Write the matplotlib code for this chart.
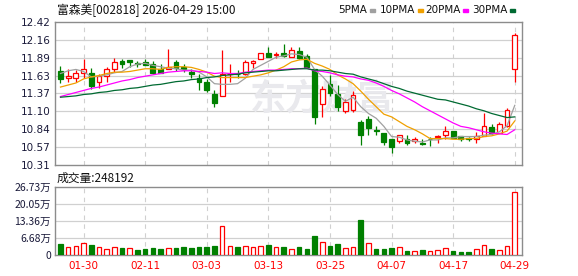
"""
Daily K-line chart for 富森美 (002818) with moving averages and volume.
"""
import matplotlib
matplotlib.use('Agg')
import matplotlib.pyplot as plt
import numpy as np

plt.rcParams['font.family'] = ['Noto Sans CJK SC', 'DejaVu Sans']

###############################################################################
# Data
###############################################################################

dates = ['01-27', '01-28', '01-29', '01-30', '02-02', '02-03', '02-04', '02-05',
         '02-06', '02-09', '02-10', '02-11', '02-12', '02-13', '02-24', '02-25',
         '02-26', '02-27', '03-02', '03-03', '03-04', '03-05', '03-06', '03-09',
         '03-10', '03-11', '03-12', '03-13', '03-16', '03-17', '03-18', '03-19',
         '03-20', '03-23', '03-24', '03-25', '03-26', '03-27', '03-30', '03-31',
         '04-01', '04-02', '04-03', '04-07', '04-08', '04-09', '04-10', '04-13',
         '04-14', '04-15', '04-16', '04-17', '04-20', '04-21', '04-22', '04-23',
         '04-24', '04-27', '04-28', '04-29']

opens = [11.70, 11.59, 11.60, 11.67, 11.67, 11.53, 11.62, 11.73, 11.84, 11.86,
         11.82, 11.83, 11.80, 11.73, 11.72, 11.83, 11.75, 11.68, 11.60, 11.54,
         11.36, 11.33, 11.65, 11.66, 11.66, 11.81, 11.87, 11.96, 11.94, 11.96,
         11.90, 11.99, 11.92, 11.72, 11.21, 11.51, 11.36, 11.11, 11.12, 10.94,
         10.99, 10.82, 10.78, 10.69, 10.67, 10.69, 10.67, 10.63, 10.70, 10.73,
         10.76, 10.81, 10.74, 10.71, 10.69, 10.74, 10.87, 10.78, 10.89, 11.72]
highs = [11.77, 11.72, 11.71, 11.87, 11.74, 11.66, 11.75, 11.89, 11.87, 11.86,
         11.85, 11.87, 11.85, 11.80, 12.02, 11.86, 11.80, 11.72, 11.65, 11.58,
         11.41, 12.01, 11.80, 11.71, 11.86, 11.86, 11.96, 12.05, 11.98, 12.09,
         12.05, 12.05, 11.95, 11.72, 11.47, 11.64, 11.49, 11.29, 11.40, 10.97,
         11.04, 10.88, 10.78, 10.70, 10.75, 10.75, 10.72, 10.69, 10.73, 10.75,
         10.89, 10.81, 10.74, 10.73, 10.80, 11.07, 10.91, 10.94, 11.15, 12.26]
lows = [11.52, 11.54, 11.54, 11.60, 11.43, 11.45, 11.54, 11.68, 11.74, 11.75,
        11.76, 11.78, 11.65, 11.67, 11.72, 11.69, 11.68, 11.60, 11.41, 11.38,
        11.16, 11.33, 11.54, 11.60, 11.64, 11.74, 11.87, 11.90, 11.89, 11.91,
        11.90, 11.87, 11.75, 10.92, 11.02, 11.33, 11.11, 11.07, 11.09, 10.60,
        10.76, 10.75, 10.60, 10.49, 10.63, 10.61, 10.64, 10.61, 10.59, 10.63,
        10.70, 10.71, 10.67, 10.67, 10.64, 10.74, 10.76, 10.78, 10.87, 11.54]
closes = [11.58, 11.62, 11.67, 11.72, 11.47, 11.62, 11.72, 11.83, 11.80, 11.83,
          11.80, 11.79, 11.67, 11.67, 11.75, 11.74, 11.73, 11.65, 11.54, 11.41,
          11.22, 11.65, 11.66, 11.65, 11.83, 11.85, 11.96, 11.91, 11.95, 11.92,
          12.00, 11.89, 11.76, 11.02, 11.43, 11.37, 11.17, 11.24, 11.34, 10.75,
          10.85, 10.81, 10.65, 10.57, 10.75, 10.63, 10.70, 10.62, 10.69, 10.74,
          10.81, 10.71, 10.70, 10.69, 10.74, 10.89, 10.78, 10.91, 11.12, 12.23]

ma5 = [11.66, 11.70, 11.72, 11.69, 11.61, 11.62, 11.64, 11.67, 11.69, 11.76,
       11.80, 11.81, 11.78, 11.76, 11.74, 11.73, 11.71, 11.71, 11.68, 11.61,
       11.51, 11.50, 11.50, 11.51, 11.59, 11.72, 11.78, 11.84, 11.90, 11.92,
       11.95, 11.94, 11.90, 11.72, 11.62, 11.49, 11.35, 11.25, 11.31, 11.17,
       11.07, 11.00, 10.88, 10.73, 10.72, 10.68, 10.66, 10.65, 10.68, 10.68,
       10.71, 10.71, 10.73, 10.73, 10.73, 10.75, 10.76, 10.80, 10.89, 11.19]
ma10 = [11.46, 11.49, 11.52, 11.58, 11.61, 11.63, 11.66, 11.68, 11.68, 11.69,
        11.71, 11.73, 11.73, 11.72, 11.75, 11.76, 11.76, 11.75, 11.72, 11.68,
        11.62, 11.60, 11.60, 11.60, 11.60, 11.62, 11.64, 11.67, 11.71, 11.76,
        11.83, 11.86, 11.87, 11.81, 11.77, 11.72, 11.64, 11.58, 11.51, 11.40,
        11.28, 11.17, 11.06, 11.02, 10.95, 10.88, 10.83, 10.77, 10.70, 10.70,
        10.70, 10.69, 10.69, 10.70, 10.70, 10.73, 10.74, 10.77, 10.81, 10.96]
ma20 = [11.32, 11.35, 11.38, 11.41, 11.44, 11.46, 11.49, 11.52, 11.55, 11.57,
        11.60, 11.62, 11.64, 11.66, 11.68, 11.69, 11.70, 11.70, 11.69, 11.68,
        11.66, 11.67, 11.66, 11.66, 11.68, 11.69, 11.70, 11.71, 11.71, 11.72,
        11.73, 11.73, 11.74, 11.70, 11.69, 11.67, 11.64, 11.62, 11.61, 11.58,
        11.56, 11.52, 11.47, 11.41, 11.36, 11.30, 11.24, 11.17, 11.11, 11.05,
        10.99, 10.93, 10.88, 10.86, 10.83, 10.80, 10.78, 10.77, 10.76, 10.83]
ma30 = [11.31, 11.32, 11.33, 11.35, 11.36, 11.38, 11.39, 11.41, 11.42, 11.44,
        11.45, 11.47, 11.49, 11.50, 11.52, 11.54, 11.55, 11.57, 11.58, 11.60,
        11.61, 11.63, 11.64, 11.65, 11.67, 11.68, 11.69, 11.70, 11.70, 11.71,
        11.72, 11.73, 11.73, 11.71, 11.71, 11.70, 11.68, 11.66, 11.65, 11.61,
        11.58, 11.55, 11.51, 11.47, 11.44, 11.40, 11.37, 11.34, 11.31, 11.28,
        11.27, 11.24, 11.21, 11.18, 11.14, 11.11, 11.07, 11.04, 11.01, 11.02]

volumes = [43200, 31400, 35400, 45900, 39300, 30100, 23600, 31400, 27500, 27500,
           19700, 23600, 27500, 24900, 26200, 27500, 31400, 27500, 31400, 31400,
           35400, 112700, 34100, 31400, 35400, 31400, 35400, 39300, 31400, 31400,
           23000, 31400, 23600, 74700, 49800, 35400, 43200, 27500, 31400, 137600,
           45900, 23600, 23600, 27500, 31400, 15700, 14400, 19700, 14400, 19700,
           26200, 15700, 11800, 11800, 23600, 38000, 23600, 19700, 35400, 248192]

price_ticks = [10.31, 10.57, 10.84, 11.10, 11.37, 11.63, 11.89, 12.16, 12.42]
vol_ticks = [0, 66825, 133650, 200475, 267300]
vol_tick_labels = ['0', '6.68万', '13.36万', '20.05万', '26.73万']

ma_names = ['5PMA', '10PMA', '20PMA', '30PMA']

###############################################################################
# Drawing
###############################################################################

RED = '#ff0000'
GREEN = '#008000'
FRAME = '#8c8c8c'
GRID = '#d0d0d0'
MA_COLORS = ['#a0a0a0', '#f0a000', '#ff00ff', '#006a32']

o = np.array(opens)
h = np.array(highs)
l = np.array(lows)
c = np.array(closes)
x = np.arange(len(dates))
up = c > o
# volume colour follows the close against the previous close
prev_c = np.concatenate([[o[0]], c[:-1]])
vol_up = c > prev_c

W, H = 578, 276
fig = plt.figure(figsize=(W / 100, H / 100), dpi=100)
ax = fig.add_axes([55 / W, 1 - 165 / H, 467 / W, 143 / H])
axv = fig.add_axes([55 / W, 1 - 255 / H, 467 / W, 68 / H])

label_idx = x[3::8]

for a in (ax, axv):
    a.set_xlim(-0.71, len(dates) - 0.06)
    for s in a.spines.values():
        s.set_color(FRAME)
        s.set_linewidth(1.0)
    a.tick_params(length=0)
    for xi in label_idx:
        a.axvline(xi, color=GRID, lw=0.8, ls=(0, (4, 4)), zorder=0)

# price panel
ax.set_ylim(price_ticks[0], price_ticks[-1])
ax.set_yticks(price_ticks)
ax.set_yticklabels([f'{t:.2f}' for t in price_ticks], fontsize=7.5,
                   color='#1a1a3a', family='DejaVu Sans')
ax.tick_params(axis='y', pad=3)
ax.set_xticks([])
for t in price_ticks[1:-1]:
    ax.axhline(t, color=GRID, lw=0.9, zorder=0)

# faint watermark
ax.text(0.572, 0.46, '东方财富', transform=ax.transAxes, fontsize=26,
        fontweight='bold', color='#e9e9ed', ha='center', va='center',
        style='italic', zorder=0.5)

colors = np.where(up, RED, GREEN)
ax.vlines(x, l, h, colors=colors, lw=0.9, zorder=2)
ax.bar(x, np.abs(c - o), bottom=np.minimum(o, c), width=0.62,
       facecolor=np.where(up, 'white', GREEN), edgecolor=colors,
       linewidth=0.9, zorder=3)

for ma, col in zip([ma5, ma10, ma20, ma30], MA_COLORS):
    ax.plot(x, ma, color=col, lw=0.9, zorder=4)

# volume panel
axv.set_ylim(0, vol_ticks[-1])
axv.set_yticks(vol_ticks)
axv.set_yticklabels(vol_tick_labels, fontsize=7.5, color='#1a1a3a')
axv.tick_params(axis='y', pad=3)
for t in vol_ticks[1:-1]:
    axv.axhline(t, color=GRID, lw=0.9, zorder=0)
vcol = np.where(vol_up, RED, GREEN)
axv.bar(x, volumes, width=0.6, facecolor=np.where(vol_up, 'white', GREEN),
        edgecolor=vcol, linewidth=0.9, zorder=3)
axv.set_xticks(label_idx)
axv.set_xticklabels([dates[i] for i in label_idx], fontsize=7.5, color=RED,
                    family='DejaVu Sans')
axv.tick_params(axis='x', pad=4)

# header texts
fig.text(57 / W, 1 - 10 / H, '富森美[002818] 2026-04-29 15:00', fontsize=8.5,
         va='center', ha='left', color='#111111')
fig.text(57 / W, 1 - 178 / H, '成交量:248192', fontsize=8.5,
         va='center', ha='left', color='#111111')

leg_x = [338, 380, 425, 472]
for name, col, lx in zip(ma_names, MA_COLORS, leg_x):
    t = fig.text(lx / W, 1 - 10 / H, name, fontsize=7.5, va='center',
                 ha='left', color='#111111', family='DejaVu Sans')
    fig.canvas.draw()
    bb = t.get_window_extent()
    fig.patches.append(plt.Rectangle(((bb.x1 + 3) / W, (H - 12) / H),
                                     5 / W, 3 / H, color=col,
                                     transform=fig.transFigure, figure=fig))

fig.savefig('out.png', dpi=100)
